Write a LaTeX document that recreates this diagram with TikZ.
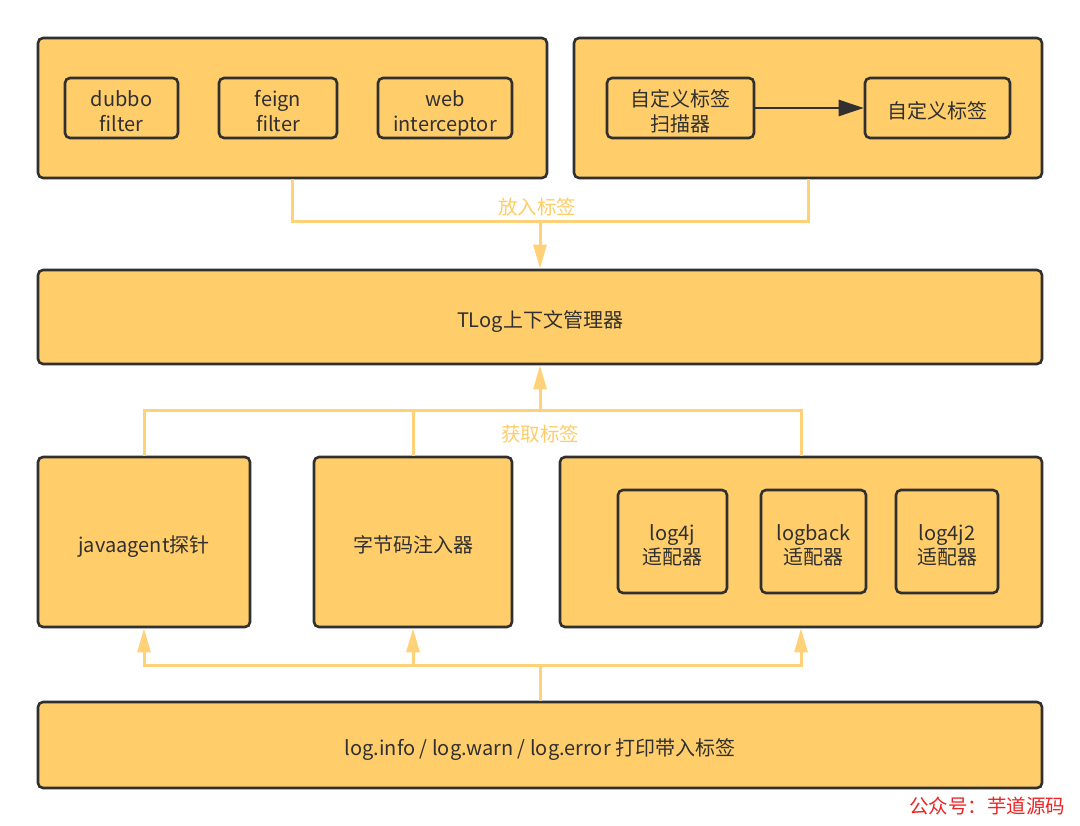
\documentclass[tikz,border=0pt]{standalone}
\usepackage{fontspec}
\setmainfont{Noto Sans CJK SC}
\usetikzlibrary{arrows.meta}
\definecolor{boxfill}{HTML}{FFCD6A}
\definecolor{boxline}{HTML}{303030}
\definecolor{conn}{HTML}{FFD27A}
\definecolor{lbl}{HTML}{FFCC66}
\definecolor{wm}{HTML}{EE2222}
\newcommand{\bt}[2][-6pt]{\raisebox{#1}[\height][\depth]{\begin{tabular}{@{}c@{}}#2\end{tabular}}}
\begin{document}
\begin{tikzpicture}[x=1pt,y=-1pt,
  box/.style={draw=boxline, fill=boxfill, rounded corners=5pt, line width=2.6pt, inner sep=0pt,
    text=boxline, font=\fontsize{20}{24.5}\selectfont},
  inbox/.style={box},
  conline/.style={draw=conn, line width=3pt},
  conarrow/.style={conline, -{Triangle[length=24pt,width=13pt]}},
  lab/.style={text=lbl, font=\fontsize{19.5}{22}\selectfont}]
\useasboundingbox (0,0) rectangle (1080,826);
\fill[white] (0,0) rectangle (1080,826);

% top row
\node[box, minimum width=509, minimum height=140] (tl) at (292.5,108) {};
\node[inbox, minimum width=113, minimum height=60] (dubbo) at (121.5,108) {\bt{dubbo\\filter}};
\node[inbox, minimum width=118, minimum height=60] (feign) at (278,108) {\bt{feign\\filter}};
\node[inbox, minimum width=134, minimum height=60] (web) at (445,108) {\bt{web\\interceptor}};

\node[box, minimum width=468, minimum height=140] (tr) at (808,108) {};
\node[inbox, minimum width=147, minimum height=60] (scan) at (680.5,108) {\bt{自定义标签\\扫描器}};
\node[inbox, minimum width=145, minimum height=60] (tag) at (937.5,108) {\bt{自定义标签}};
\draw[draw=boxline, line width=2.6pt, -{Triangle[length=25pt,width=16pt]}] (scan.east) -- (tag.west);

% context manager
\node[box, minimum width=1004, minimum height=94] (ctx) at (540,317) {\bt{TLog上下文管理器}};

% third row
\node[box, minimum width=212, minimum height=170] (ja) at (144,542) {\bt{javaagent探针}};
\node[box, minimum width=198, minimum height=170] (bc) at (413,542) {\bt{字节码注入器}};
\node[box, minimum width=482, minimum height=170] (la) at (801,542) {};
\node[inbox, minimum width=109, minimum height=103] (l4j) at (672.5,541.5) {\bt{log4j\\适配器}};
\node[inbox, minimum width=105, minimum height=103] (lb) at (813.5,541.5) {\bt{logback\\适配器}};
\node[inbox, minimum width=102, minimum height=103] (l4j2) at (947,541.5) {\bt{log4j2\\适配器}};

% bottom
\node[box, minimum width=1004, minimum height=86] (bot) at (540,745) {\bt{log.info / log.warn / log.error 打印带入标签}};

% connectors top
\coordinate (m1) at (540,222);
\draw[conline] (tl.south) |- (m1) -| (tr.south);
\draw[conarrow] (m1) -- (ctx.north);
\node[lab] (put) at (537,207) {放入标签};

% connectors middle
\coordinate (m2) at (540,411);
\draw[conline] (ja.north) |- (m2) -| (la.north);
\draw[conline] (bc.north) -- (bc.north |- m2);
\draw[conarrow] (m2) -- (ctx.south);
\node[lab] (get) at (540,434) {获取标签};

% connectors bottom
\coordinate (m3) at (540,665);
\draw[conline] (bot.north) -- (m3);
\draw[conarrow] (m3) -| (ja.south);
\draw[conarrow] (m3) -| (la.south);
\draw[conarrow] (bc.south |- m3) -- (bc.south);

% watermark
\node[text=wm, anchor=east, font=\fontsize{19.5}{22}\selectfont] (wmark) at (1069,806) {公众号：芋道源码};
\end{tikzpicture}
\end{document}
